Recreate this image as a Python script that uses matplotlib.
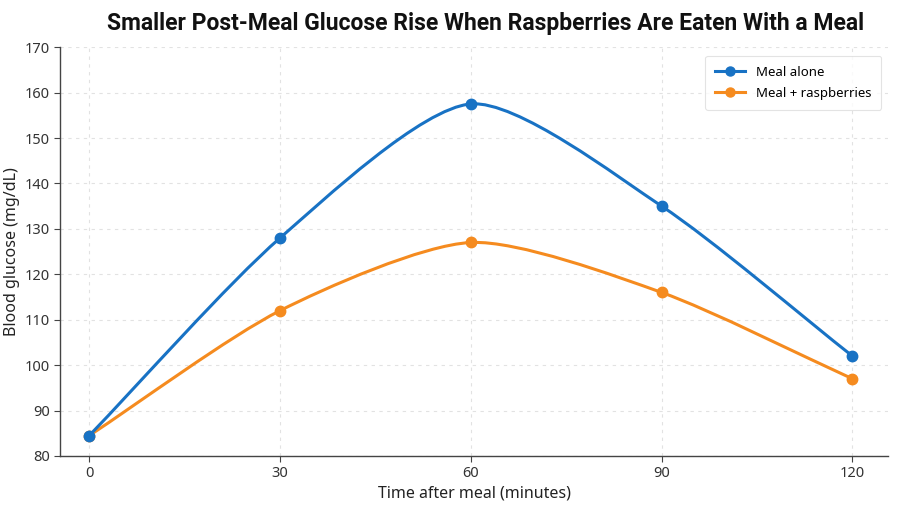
import numpy as np
import matplotlib
matplotlib.use("Agg")
import matplotlib.pyplot as plt
from matplotlib.path import Path
from matplotlib.patches import PathPatch

plt.rcParams["font.family"] = ["Noto Sans", "DejaVu Sans"]

minutes = [0, 30, 60, 90, 120]
meal_alone = [84.5, 128, 157.5, 135, 102]
meal_raspberries = [84.5, 112, 127, 116, 97]
series_names = ["Meal alone", "Meal + raspberries"]

BLUE = "#1872c4"
ORANGE = "#f58b1f"
TENSION = 0.25


def spline_path(ax, x, y, tension=TENSION):
    # cubic bezier through the points, tangents built in pixel space
    pts = ax.transData.transform(np.column_stack([x, y]))
    n = len(pts)
    verts = [pts[0]]
    codes = [Path.MOVETO]
    cps = []
    for i in range(n):
        prev = pts[max(i - 1, 0)]
        cur = pts[i]
        nxt = pts[min(i + 1, n - 1)]
        d01 = np.hypot(*(cur - prev))
        d12 = np.hypot(*(nxt - cur))
        tot = d01 + d12
        s01 = d01 / tot if tot else 0
        s12 = d12 / tot if tot else 0
        cps.append((cur - tension * s01 * (nxt - prev), cur + tension * s12 * (nxt - prev)))
    for i in range(n - 1):
        verts += [cps[i][1], cps[i + 1][0], pts[i + 1]]
        codes += [Path.CURVE4] * 3
    verts = ax.transData.inverted().transform(np.array(verts))
    return Path(verts, codes)


fig = plt.figure(figsize=(9, 5.07), dpi=100)
ax = fig.add_axes([0.0667, 0.1006, 0.92, 0.8064])
ax.set_xlim(-4.6, 125.6)
ax.set_ylim(80, 170)

series = [(meal_alone, series_names[0], BLUE, 5),
          (meal_raspberries, series_names[1], ORANGE, 3)]
for values, name, color, z in series:
    curve = spline_path(ax, minutes, values)
    ax.add_patch(PathPatch(curve, fill=False, edgecolor=color, lw=2.2, zorder=z,
                           capstyle="round", joinstyle="round"))
    ax.plot(minutes, values, "o", color=color, ms=7.5, zorder=z + 1)
    # proxy handle for legend
    ax.plot([], [], "-o", color=color, lw=2.2, ms=6.5, label=name)

ax.set_xticks(minutes)
ax.set_yticks(range(80, 171, 10))
ax.grid(True, ls=(0, (3, 4)), color="#e2e2e2", lw=0.8)
ax.set_axisbelow(True)

for side in ["top", "right"]:
    ax.spines[side].set_visible(False)
for side in ["left", "bottom"]:
    ax.spines[side].set_color("#444444")
    ax.spines[side].set_linewidth(1.0)
ax.tick_params(labelsize=10.5, colors="#333333", length=4, color="#444444")

ax.set_xlabel("Time after meal (minutes)", fontsize=11.5, color="#222222", labelpad=3)
ax.set_ylabel("Blood glucose (mg/dL)", fontsize=11.5, color="#222222", labelpad=3)

fig.text(0.539, 0.953, "Smaller Post-Meal Glucose Rise When Raspberries Are Eaten With a Meal",
         ha="center", va="center", fontsize=16.5, fontweight="semibold", color="#111111",
         family=["Roboto", "DejaVu Sans"])

leg = ax.legend(loc="upper right", fontsize=9.5, frameon=True, borderpad=0.75,
                labelspacing=0.6, handlelength=2.3, bbox_to_anchor=(1.0, 0.995))
leg.get_frame().set_edgecolor("#dddddd")
leg.get_frame().set_linewidth(0.8)

fig.savefig("out.png", dpi=100)
